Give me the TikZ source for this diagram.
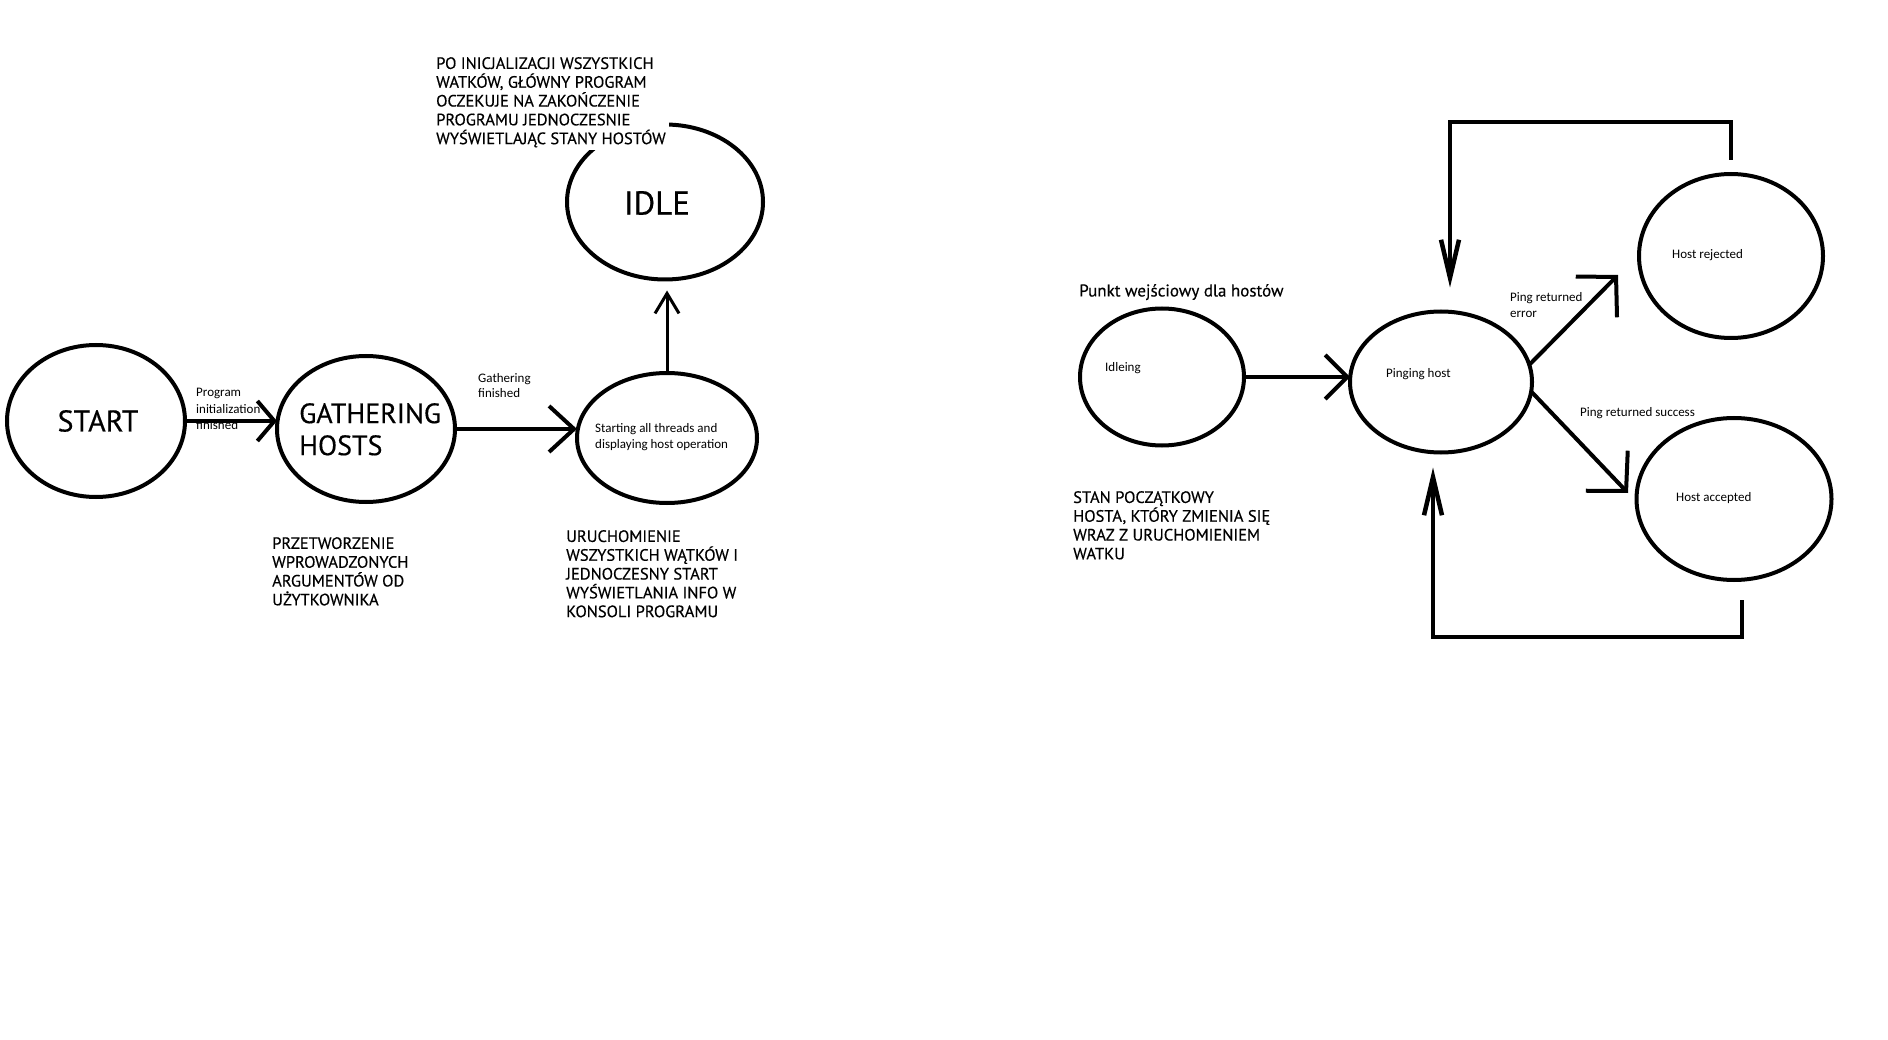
\documentclass[tikz,border=0pt]{standalone}
\usepackage{fontspec}
\setmainfont{PT Sans}
\newfontfamily\din{PT Sans}[FakeBold=0.4]
\newfontfamily\calibri{Carlito}
\usetikzlibrary{shapes.geometric, positioning, arrows.meta}
\tikzset{
    stan/.style={draw, ellipse, line width=4pt, inner sep=0pt, outer sep=0pt},
    opis/.style={align=left, anchor=north west, inner sep=0pt, font=\din\fontsize{16.5}{18.8}\selectfont},
    etykieta/.style={align=left, anchor=north west, inner sep=0pt, font=\calibri\fontsize{13}{16.5}\selectfont},
    strzalka/.style={line width=4pt, arrows={-Straight Barb[length=22pt, width=44pt]}}
}

\begin{document}
\begin{tikzpicture}[
        x=1pt, y=-1pt,
        duzy/.style={font=\din\fontsize{28}{32}\selectfont, inner sep=0pt},
        cienka/.style={line width=3pt, arrows={-Straight Barb[length=20pt, width=24pt]}},
        skos/.style={line width=4pt, arrows={-Straight Barb[length=28pt, width=58pt]}},
        petla/.style={line width=4.5pt, arrows={-Straight Barb[length=38pt, width=18pt]}}
    ]
    \useasboundingbox[fill=white] (0,0) rectangle (1888,1040);

    % program
    \node (start)     at (96,421)  [stan, minimum width=178pt, minimum height=152pt] {};
    \node (gathering) at (366,429) [stan, minimum width=178pt, minimum height=146pt] {};
    \node (watki)     at (667,438) [stan, minimum width=180pt, minimum height=130pt] {};
    \node (idle)      at (665,202) [stan, minimum width=196pt, minimum height=155pt] {};

    \node[duzy, font=\din\fontsize{30}{34}\selectfont] (startTekst) at (98,421) {START};
    \node[duzy, align=left, anchor=north west] (gatheringTekst) at (299,403) {GATHERING\\HOSTS};
    \node[duzy, font=\din\fontsize{33}{36}\selectfont] (idleTekst) at (657,203) {IDLE};
    \node[etykieta] (watkiTekst) at (595,423) {Starting all threads and\\displaying host operation};

    \draw[strzalka, arrows={-Straight Barb[length=17pt, width=40pt]}] (start.east) -- (start.east -| gathering.west);
    \draw[strzalka, arrows={-Straight Barb[length=25pt, width=46pt]}] (gathering.east) -- (gathering.east -| watki.west);
    \draw[cienka, shorten >=11pt] (watki.north) -- (watki.north |- idle.south);

    \node[etykieta] (programEtykieta) at (196,388) {Program\\initialization\\finished};
    \node[etykieta, font=\calibri\fontsize{13}{15.5}\selectfont] (gatheringEtykieta) at (478,373) {Gathering\\finished};

    \node[opis, fill=white, inner sep=3pt] (poInicjalizacji) at (433,54) {PO INICJALIZACJI WSZYSTKICH\\WATKÓW, GŁÓWNY PROGRAM\\OCZEKUJE NA ZAKOŃCZENIE\\PROGRAMU JEDNOCZESNIE\\WYŚWIETLAJĄC STANY HOSTÓW};
    \node[opis] (przetworzenie) at (272,537) {PRZETWORZENIE\\WPROWADZONYCH\\ARGUMENTÓW OD\\UŻYTKOWNIKA};
    \node[opis] (uruchomienie) at (566,530) {URUCHOMIENIE\\WSZYSTKICH WĄTKÓW I\\JEDNOCZESNY START\\WYŚWIETLANIA INFO W\\KONSOLI PROGRAMU};

    % host
    \node (idleing)  at (1162,377) [stan, minimum width=164pt, minimum height=137pt] {};
    \node (pinging)  at (1441,382) [stan, minimum width=182pt, minimum height=141pt] {};
    \node (rejected) at (1731,256) [stan, minimum width=184pt, minimum height=164pt] {};
    \node (accepted) at (1734,499) [stan, minimum width=195pt, minimum height=162pt] {};

    \node[etykieta] (idleingTekst)  at (1105,362) {Idleing};
    \node[etykieta] (pingingTekst)  at (1386,368) {Pinging host};
    \node[etykieta] (rejectedTekst) at (1672,249) {Host rejected};
    \node[etykieta] (acceptedTekst) at (1676,492) {Host accepted};

    \coordinate (bladGrot)   at (1618,275);
    \coordinate (sukcesGrot) at (1628,493);
    \coordinate (gora) at (1450,122);
    \coordinate (dol)  at (1433,637);

    \draw[strzalka] (idleing.east) -- (idleing.east -| pinging.west);
    \draw[skos] (pinging.11) -- (bladGrot);
    \draw[skos] (pinging.-6) -- (sukcesGrot);
    \draw[petla, shorten >=24pt] ([yshift=14pt]rejected.north) |- (gora) -- (gora |- pinging.north);
    \draw[petla, shorten >=15pt] ([xshift=8pt, yshift=-20pt]accepted.south) |- (dol) -- (dol |- pinging.south);

    \node[etykieta] (bladEtykieta)   at (1510,292) {Ping returned\\error};
    \node[etykieta] (sukcesEtykieta) at (1580,407) {Ping returned success};

    \node[opis, font=\din\fontsize{17}{20}\selectfont] (punkt) at (1079,284) {Punkt wejściowy dla hostów};
    \node[opis] (stanPoczatkowy) at (1073,491) {STAN POCZĄTKOWY\\HOSTA, KTÓRY ZMIENIA SIĘ\\WRAZ Z URUCHOMIENIEM\\WATKU};

\end{tikzpicture}
\end{document}
